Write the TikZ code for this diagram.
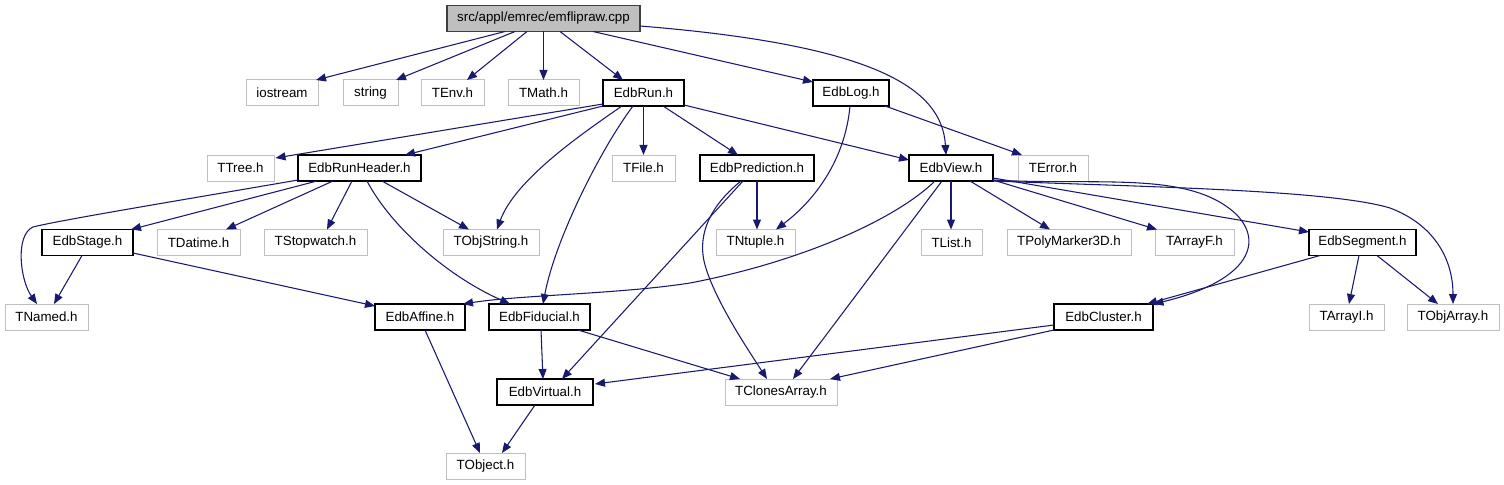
\documentclass[tikz,border=0pt]{standalone}
\usepackage{fontspec}
\setmainfont{Liberation Sans}
\usetikzlibrary{arrows.meta,calc}
\definecolor{edgeblue}{HTML}{191970}
\definecolor{greyline}{HTML}{BFBFBF}
\definecolor{rootfill}{HTML}{BFBFBF}
\definecolor{rootline}{HTML}{404040}
\tikzset{
  gbox/.style={draw=greyline, line width=0.75pt, minimum height=19.5pt, inner sep=0pt, font=\fontsize{10pt}{12pt}\selectfont, text=black},
  bbox/.style={draw=black, line width=1pt, minimum height=19.5pt, inner sep=0pt, font=\fontsize{10pt}{12pt}\selectfont, text=black},
  rbox/.style={draw=rootline, fill=rootfill, line width=1pt, minimum height=19.5pt, inner sep=0pt, font=\fontsize{10pt}{12pt}\selectfont, text=black},
  edge/.style={draw=edgeblue, line width=0.8pt, -{Triangle[length=7.5pt,width=6pt]}},
}
\begin{document}
\begin{tikzpicture}[x=0.75pt,y=-0.75pt]
\useasboundingbox (0,0) rectangle (1504,485);
% row 1
\node[rbox, minimum width=144.75pt] (root) at (543.5,18.5) {src/appl/emrec/emflipraw.cpp};
% row 2
\node[gbox, minimum width=54pt] (iostream) at (282,93) {iostream};
\node[gbox, minimum width=41.25pt] (string) at (370.5,93) {string};
\node[gbox, minimum width=47.25pt] (tenv) at (452.5,93) {TEnv.h};
\node[gbox, minimum width=53.25pt] (tmath) at (543.5,93) {TMath.h};
\node[bbox, minimum width=60.75pt] (edbrun) at (643.5,93) {EdbRun.h};
\node[bbox, minimum width=57pt] (edblog) at (851,93) {EdbLog.h};
% row 3
\node[gbox, minimum width=50.25pt] (ttree) at (240.5,168) {TTree.h};
\node[bbox, minimum width=92.25pt] (runheader) at (359.5,168) {EdbRunHeader.h};
\node[gbox, minimum width=47.25pt] (tfile) at (643.5,168) {TFile.h};
\node[bbox, minimum width=85.5pt] (prediction) at (757,168) {EdbPrediction.h};
\node[bbox, minimum width=63pt] (edbview) at (951,168) {EdbView.h};
\node[gbox, minimum width=52.5pt] (terror) at (1053,168) {TError.h};
% row 4
\node[bbox, minimum width=68.25pt] (edbstage) at (87.5,242.5) {EdbStage.h};
\node[gbox, minimum width=62.25pt] (tdatime) at (198.5,242.5) {TDatime.h};
\node[gbox, minimum width=77.25pt] (tstopwatch) at (315.5,242.5) {TStopwatch.h};
\node[gbox, minimum width=72pt] (tobjstring) at (491,242.5) {TObjString.h};
\node[gbox, minimum width=59.25pt] (tntuple) at (755.5,242.5) {TNtuple.h};
\node[gbox, minimum width=45.75pt] (tlist) at (951.5,242.5) {TList.h};
\node[gbox, minimum width=93pt] (tpoly) at (1069,242.5) {TPolyMarker3D.h};
\node[gbox, minimum width=59.25pt] (tarrayf) at (1194.5,242.5) {TArrayF.h};
\node[bbox, minimum width=80.25pt] (edbsegment) at (1362.5,242.5) {EdbSegment.h};
% row 5
\node[gbox, minimum width=62.25pt] (tnamed) at (46.5,317) {TNamed.h};
\node[bbox, minimum width=67.5pt] (edbaffine) at (420,317) {EdbAffine.h};
\node[bbox, minimum width=75.75pt] (edbfiducial) at (539.5,317) {EdbFiducial.h};
\node[bbox, minimum width=74.25pt] (edbcluster) at (1103.5,317) {EdbCluster.h};
\node[gbox, minimum width=56.25pt] (tarrayi) at (1346.5,317) {TArrayI.h};
\node[gbox, minimum width=69pt] (tobjarray) at (1453,317) {TObjArray.h};
% row 6
\node[bbox, minimum width=72pt] (edbvirtual) at (545,392) {EdbVirtual.h};
\node[gbox, minimum width=84pt] (tclones) at (781,392) {TClonesArray.h};
% row 7
\node[gbox, minimum width=59.25pt] (tobject) at (485.5,466) {TObject.h};

% root edges
\draw[edge] ($(root)+(-38.5,13)$) -- ($(iostream)+(34,-13)$);
\draw[edge] ($(root)+(-28.5,13)$) -- ($(string)+(25.5,-13)$);
\draw[edge] ($(root)+(-16.5,13)$) -- ($(tenv)+(14.5,-13)$);
\draw[edge] ($(root)+(0,13)$) -- ($(tmath)+(0,-13)$);
\draw[edge] ($(root)+(16.5,13)$) -- ($(edbrun)+(-20.5,-13)$);
\draw[edge] ($(root)+(49.5,13)$) -- ($(edblog)+(-38,-11)$);
\draw[edge] ($(root)+(96.5,7.5)$) .. controls (875,45) and (942,88) .. ($(edbview)+(-5,-13)$);

% EdbRun edges
\draw[edge] ($(edbrun)+(-40.5,11)$) -- ($(ttree)+(35,-10)$);
\draw[edge] ($(edbrun)+(-40.5,13)$) -- ($(runheader)+(45.5,-13)$);
\draw[edge] ($(edbrun)+(-21.5,13)$) .. controls (580,135) and (515,180) .. ($(tobjstring)+(6,-13)$);
\draw[edge] ($(edbrun)+(-10.5,13)$) .. controls (600,150) and (555,240) .. ($(edbfiducial)+(3.5,-13)$);
\draw[edge] ($(edbrun)+(0,13)$) -- ($(tfile)+(0,-13)$);
\draw[edge] ($(edbrun)+(19.5,13)$) -- ($(prediction)+(-19,-13)$);
\draw[edge] ($(edbrun)+(40.5,12)$) -- ($(edbview)+(-42,-8)$);

% EdbLog edges
\draw[edge] ($(edblog)+(34,13)$) -- ($(terror)+(-31,-13)$);
\draw[edge] ($(edblog)+(-1,13)$) .. controls (845,160) and (815,200) .. ($(tntuple)+(20.5,-13)$);

% EdbRunHeader edges
\draw[edge] ($(runheader)+(-61.5,12)$) .. controls (200,197) and (60,220) .. (33,227) .. controls (15,235) and (20,280) .. ($(tnamed)+(-9.5,-13)$);
\draw[edge] ($(runheader)+(-42.5,13)$) -- ($(edbstage)+(43.5,-13)$);
\draw[edge] ($(runheader)+(-26.5,13)$) -- ($(tdatime)+(27.5,-13)$);
\draw[edge] ($(runheader)+(-7.5,13)$) -- ($(tstopwatch)+(11.5,-13)$);
\draw[edge] ($(runheader)+(22.5,13)$) -- ($(tobjstring)+(-22,-13)$);
\draw[edge] ($(runheader)+(7.5,13)$) .. controls (390,225) and (445,275) .. ($(edbfiducial)+(-29.5,-13)$);

% EdbPrediction edges
\draw[edge] ($(prediction)+(0,13)$) -- ($(tntuple)+(1.5,-13)$);
\draw[edge] ($(prediction)+(-14,13)$) -- ($(edbvirtual)+(17,-13)$);
\draw[edge] ($(prediction)+(-16,13)$) .. controls (705,210) and (698,240) .. (705,265) .. controls (715,300) and (745,345) .. ($(tclones)+(-14,-13)$);

% EdbView edges
\draw[edge] ($(edbview)+(-16,13)$) .. controls (895,220) and (800,262) .. (690,283) .. controls (620,294) and (520,295) .. ($(edbaffine)+(43,-13)$);
\draw[edge] ($(edbview)+(-9,13)$) -- ($(tclones)+(12,-13)$);
\draw[edge] ($(edbview)+(0,13)$) -- ($(tlist)+(-0.5,-13)$);
\draw[edge] ($(edbview)+(19,13)$) -- ($(tpoly)+(-19,-13)$);
\draw[edge] ($(edbview)+(42,12)$) -- ($(tarrayf)+(-37.5,-13)$);
\draw[edge] ($(edbview)+(42,10)$) -- ($(edbsegment)+(-53.5,-10.5)$);
\draw[edge] ($(edbview)+(42,12)$) .. controls (1100,186) and (1190,170) .. (1237,215) .. controls (1265,245) and (1245,282) .. ($(edbcluster)+(50,-13)$);
\draw[edge] ($(edbview)+(42,13)$) .. controls (1150,187) and (1330,190) .. (1390,208) .. controls (1435,225) and (1453,260) .. ($(tobjarray)+(0,-13)$);

% EdbStage edges
\draw[edge] ($(edbstage)+(-5.5,13)$) -- ($(tnamed)+(7.5,-13)$);
\draw[edge] ($(edbstage)+(45.5,10.5)$) -- ($(edbaffine)+(-45,-11)$);

% EdbSegment edges
\draw[edge] ($(edbsegment)+(-42.5,13)$) -- ($(edbcluster)+(43.5,-13)$);
\draw[edge] ($(edbsegment)+(-3.5,13)$) -- ($(tarrayi)+(2.5,-13)$);
\draw[edge] ($(edbsegment)+(14.5,13)$) -- ($(tobjarray)+(-15,-13)$);

% EdbAffine, EdbFiducial, EdbCluster, EdbVirtual edges
\draw[edge] ($(edbaffine)+(5,13)$) -- ($(tobject)+(-5.5,-13)$);
\draw[edge] ($(edbfiducial)+(1.5,13)$) -- ($(edbvirtual)+(-2,-13)$);
\draw[edge] ($(edbfiducial)+(38.5,13)$) -- ($(tclones)+(-41,-13)$);
\draw[edge] ($(edbcluster)+(-49.5,8)$) -- ($(edbvirtual)+(50,-8)$);
\draw[edge] ($(edbcluster)+(-49.5,13)$) -- ($(tclones)+(49,-13)$);
\draw[edge] ($(edbvirtual)+(-10,13)$) -- ($(tobject)+(16.5,-13)$);
\end{tikzpicture}
\end{document}
